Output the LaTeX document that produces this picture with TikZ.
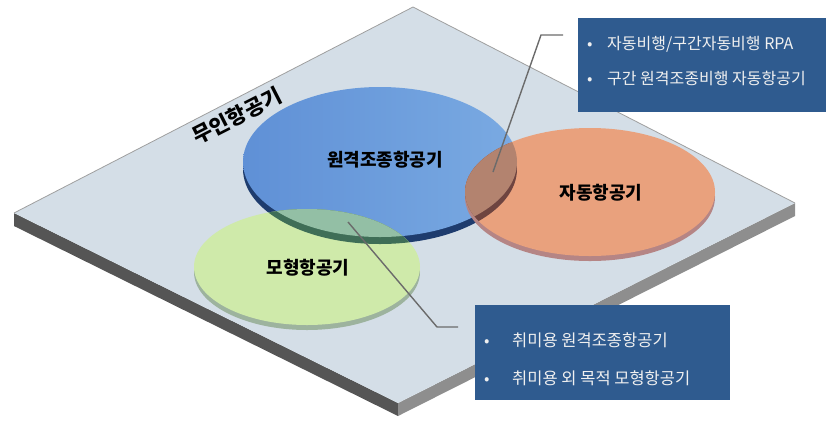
\documentclass[tikz,border=0pt]{standalone}
\usepackage{fontspec}
\setmainfont{Noto Sans CJK KR}
\definecolor{plate}{HTML}{D4DEE7}
\definecolor{sideL}{HTML}{555555}
\definecolor{sideR}{HTML}{8E8E8E}
\definecolor{blueL}{HTML}{5F90D6}
\definecolor{blueRt}{HTML}{7AAAE2}
\definecolor{blueR}{HTML}{1E3C6E}
\definecolor{greenF}{HTML}{CFEAAA}
\definecolor{greenR}{HTML}{9DB39E}
\definecolor{orangeF}{HTML}{E9A17D}
\definecolor{orangeR}{HTML}{B58585}
\definecolor{ovG}{HTML}{93BFA5}
\definecolor{ovGR}{HTML}{3F6E57}
\definecolor{ovO}{HTML}{B3836F}
\definecolor{ovOR}{HTML}{6E4440}
\definecolor{boxblue}{HTML}{2F5B8F}
\definecolor{callgray}{HTML}{6B6B6B}
\newcommand{\mybulsym}{{\fontsize{16}{16}\selectfont •}}
\begin{document}
\begin{tikzpicture}[x=1pt,y=-1pt,
  lbl/.style={font=\bfseries\fontsize{18}{20}\selectfont, text=black},
  boxtxt/.style={text=white!94!black, anchor=west, inner sep=0pt},
  callout/.style={draw=callgray, line width=1.4pt},
  infobox/.style={fill=boxblue, draw=none, anchor=north west, inner sep=0pt}]
\useasboundingbox (0,0) rectangle (826,424);
% plate
\fill[sideL] (14,213) -- (398,403) -- (398,416) -- (14,226) -- cycle;
\fill[sideR] (398,403) -- (795,203) -- (795,216) -- (398,416) -- cycle;
\fill[plate] (413,7) -- (795,203) -- (398,403) -- (14,213) -- cycle;
\draw[gray!75, line width=0.8pt] (14,213) -- (413,7) -- (795,203);
% blue ellipse
\fill[blueR] (380,169) ellipse [x radius=137pt, y radius=75pt];
\shade[left color=blueL, right color=blueRt] (380,162) ellipse [x radius=137pt, y radius=75pt];
% green ellipse
\fill[greenR] (307,272) ellipse [x radius=113pt, y radius=58pt];
\fill[greenF] (307,267) ellipse [x radius=113pt, y radius=58pt];
\begin{scope}
  \clip (307,267) ellipse [x radius=113pt, y radius=58pt];
  \fill[ovGR] (380,169) ellipse [x radius=137pt, y radius=75pt];
  \fill[ovG] (380,162) ellipse [x radius=137pt, y radius=75pt];
\end{scope}
% orange ellipse
\fill[orangeR] (590,197) ellipse [x radius=125pt, y radius=64pt];
\fill[orangeF] (590,192) ellipse [x radius=125pt, y radius=64pt];
\begin{scope}
  \clip (590,192) ellipse [x radius=125pt, y radius=64pt];
  \fill[ovOR] (380,169) ellipse [x radius=137pt, y radius=75pt];
  \fill[ovO] (380,162) ellipse [x radius=137pt, y radius=75pt];
\end{scope}
% labels
\node[lbl] (rc) at (385,160) {원격조종항공기};
\node[lbl] (auto) at (601,193) {자동항공기};
\node[lbl] (model) at (308,268) {모형항공기};
\node[font=\bfseries\fontsize{21}{24}\selectfont, rotate=27] (uav) at (237,116) {무인항공기};
% info boxes
\node[infobox, minimum width=248pt, minimum height=94pt] (boxA) at (578,18) {};
\node[infobox, minimum width=255pt, minimum height=95pt] (boxB) at (475,305) {};
\node[boxtxt, font=\fontsize{16}{18}\selectfont] (a1) at (587,44) {\makebox[20pt][l]{\mybulsym}자동비행/구간자동비행 RPA};
\node[boxtxt, font=\fontsize{16}{18}\selectfont] (a2) at (587,78) {\makebox[20pt][l]{\mybulsym}구간 원격조종비행 자동항공기};
\node[boxtxt, font=\fontsize{16.5}{18}\selectfont] (b1) at (484,340) {\makebox[28pt][l]{\mybulsym}취미용 원격조종항공기};
\node[boxtxt, font=\fontsize{16.5}{18}\selectfont] (b2) at (484,378) {\makebox[28pt][l]{\mybulsym}취미용 외 목적 모형항공기};
% callouts
\coordinate (c1s) at (493,172);
\coordinate (c1k) at (541,35);
\coordinate (c1e) at (563,35);
\draw[callout] (c1s) -- (c1k) -- (c1e);
\coordinate (c2s) at (348,222);
\coordinate (c2k) at (437,327);
\coordinate (c2e) at (458,327);
\draw[callout] (c2s) -- (c2k) -- (c2e);
\end{tikzpicture}
\end{document}
